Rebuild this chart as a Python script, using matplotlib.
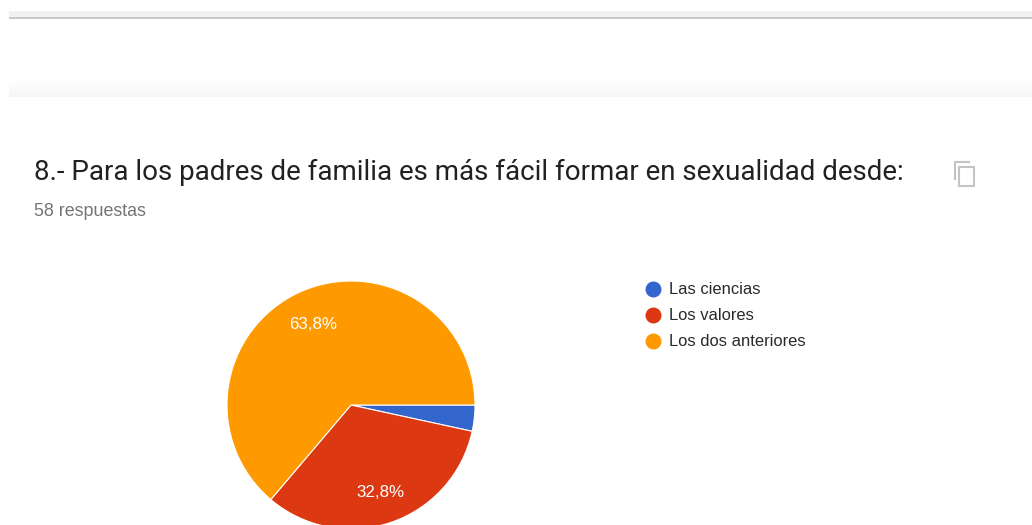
import matplotlib

matplotlib.use("Agg")
import matplotlib.pyplot as plt
from matplotlib.patches import Rectangle
from matplotlib.lines import Line2D
import numpy as np

plt.rcParams["font.family"] = ["Roboto", "DejaVu Sans"]

categories = ["Las ciencias", "Los valores", "Los dos anteriores"]
shares = [3.4, 32.8, 63.8]
colors = ["#3366cc", "#dc3912", "#ff9900"]
title = "8.- Para los padres de familia es más fácil formar en sexualidad desde:"
subtitle = "58 respuestas"

W, H = 1032, 525


def py(y):
    """Picture row (from the top) to axes y."""
    return H - y


def pct_label(p):
    # thin slices carry no label
    if p < 5:
        return ""
    return f"{p:.1f}%".replace(".", ",")


fig = plt.figure(figsize=(W / 100, H / 100), dpi=100, facecolor="white")
ax = fig.add_axes([0, 0, 1, 1])

wedges, _, pct_texts = ax.pie(
    shares,
    colors=colors,
    center=(351, py(405)),
    radius=124,
    startangle=0,
    counterclock=False,
    autopct=pct_label,
    pctdistance=0.73,
    wedgeprops={"edgecolor": "white", "linewidth": 0.8},
    textprops={"color": "white", "fontsize": 12.2, "family": "Liberation Sans"},
)
for t in pct_texts:
    t.set_y(t.get_position()[1] - 2)

ax.set_aspect("auto")
ax.axis("off")

# Page bands above the card
ax.add_patch(Rectangle((9, py(17)), W - 9, 6, fc="#f1f1f1", ec="none"))
ax.add_patch(Rectangle((9, py(18.5)), W - 9, 1.8, fc="#c9c9c9", ec="none"))
gradient = np.linspace(1.0, 0.96, 20).reshape(-1, 1)
ax.imshow(
    gradient,
    extent=(9, W, py(97), py(77)),
    cmap="gray",
    vmin=0,
    vmax=1,
    aspect="auto",
    zorder=1,
)
ax.set_xlim(0, W)
ax.set_ylim(0, H)

ax.text(34, py(172), title, fontsize=19.97, color="#212121", va="center", ha="left")
ax.text(34, py(212), subtitle, fontsize=12.9, color="#757575", va="center", ha="left",
        family="Liberation Sans")

# Copy icon
ICON = "#c4c4c4"
ax.add_patch(Rectangle((959, py(186)), 15, 19, fc="none", ec=ICON, lw=1.5))
ax.add_line(Line2D([955, 955, 969], [py(179), py(162), py(162)], color=ICON, lw=1.5))

# Legend
for i, (name, color) in enumerate(zip(categories, colors)):
    y = 289 + 26 * i
    ax.plot(653, py(y), "o", color=color, markersize=11.5, markeredgewidth=0)
    ax.text(669, py(y), name, fontsize=11.9, color="#2a2a2a", va="center", ha="left",
            family="Liberation Sans")

fig.savefig("out.png", dpi=100)
